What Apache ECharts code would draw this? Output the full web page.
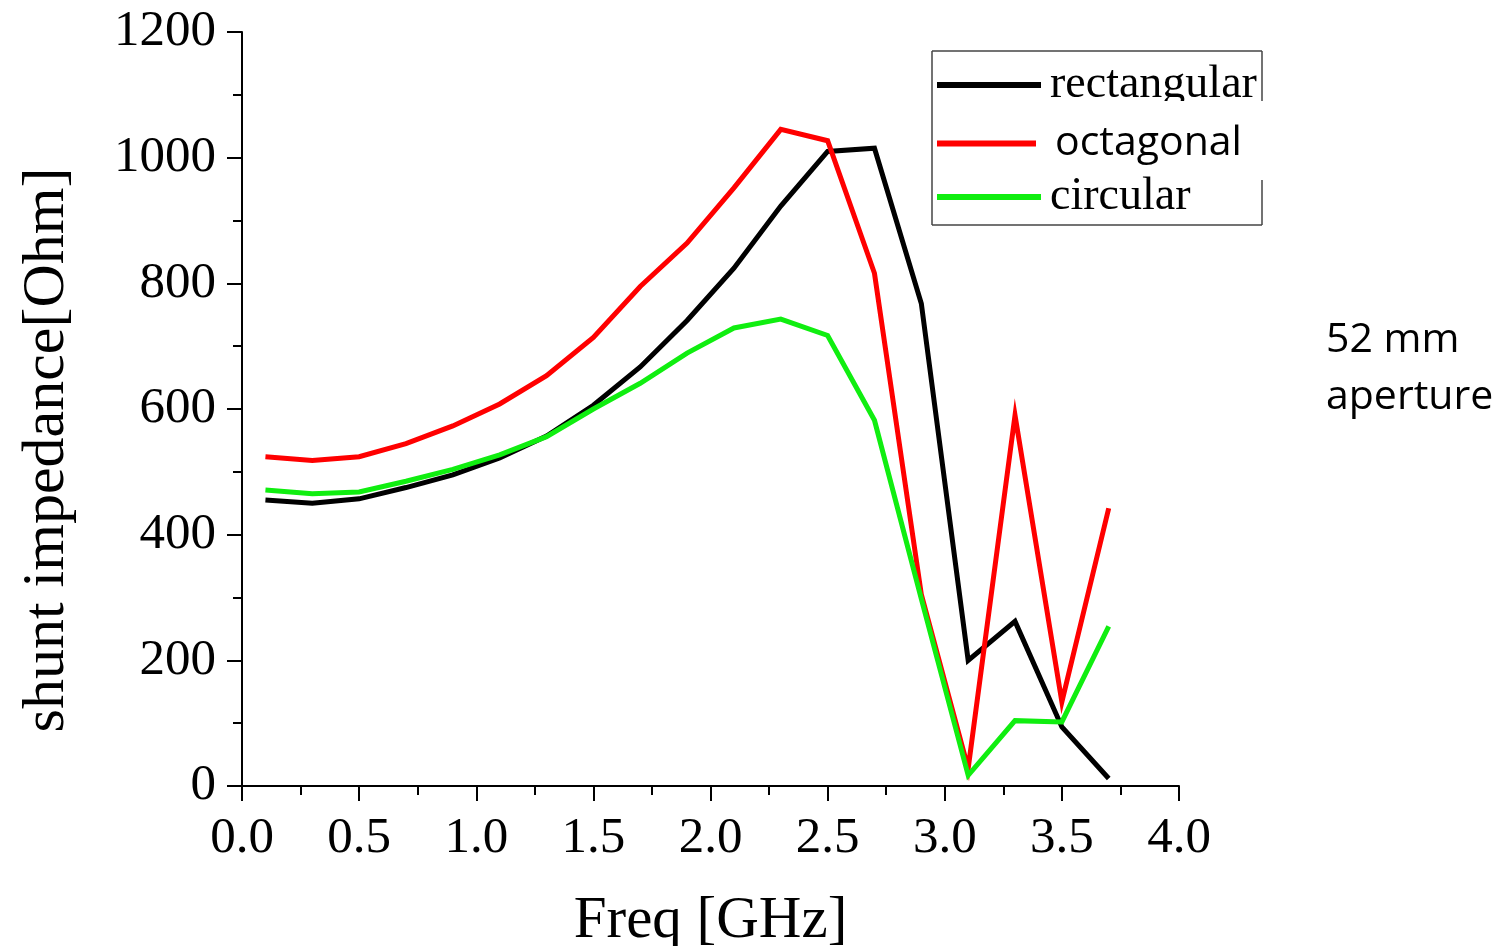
<!DOCTYPE html>
<html>
<head>
<meta charset="utf-8">
<script src="https://cdn.jsdelivr.net/npm/echarts@6/dist/echarts.min.js"></script>
<style>html,body{margin:0;padding:0;background:#fff}#c{width:1507px;height:946px}</style>
</head>
<body>
<div id="c"></div>
<script>
const freq = [0.1,0.3,0.5,0.7,0.9,1.1,1.3,1.5,1.7,1.9,2.1,2.3,2.5,2.7,2.9,3.1,3.3,3.5,3.7];
const rectangular = [455,450,457,475,495,522,557,606,667,741,824,923,1010,1015,768,200,262,94,12];
const octagonal = [524,518,524,545,573,608,653,714,795,864,952,1045,1027,816,305,28,590,134,442];
const circular = [471,465,468,485,504,527,556,600,641,689,729,743,717,582,298,17,104,102,254];
const xTicks = [0,0.5,1.0,1.5,2.0,2.5,3.0,3.5,4.0];
const yTicks = [0,200,400,600,800,1000,1200];
const xTitle = 'Freq [GHz]';
const yTitle = 'shunt impedance[Ohm]';
const note = ['52 mm', 'aperture'];

const serif = 'Liberation Serif';
const sans = 'Open Sans';
const colors = {rectangular:'#000000', octagonal:'#ff0000', circular:'#10ee10'};

function pairs(vals){ return freq.map((f,i)=>[f, vals[i]]); }
function mkSeries(name, vals){
  return {name, type:'line', data:pairs(vals), showSymbol:false, symbol:'none',
    lineStyle:{color:colors[name], width:5, join:'miter'}, itemStyle:{color:colors[name]},
    animation:false};
}
function mkLegend(name, top, width, font, size, pad){
  return {data:[{name, icon:'rect'}], left:937, top:top, orient:'vertical', padding:0,
    itemWidth:width, itemHeight:6, selectedMode:false,
    textStyle:{fontFamily:font, fontSize:size, color:'#000', lineHeight:size, padding:[0,0,0,pad]}};
}

const chart = echarts.init(document.getElementById('c'), null, {renderer:'canvas'});
chart.setOption({
  animation:false,
  backgroundColor:'#fff',
  grid:{left:242, right:328, top:32, bottom:160, containLabel:false, outerBoundsMode:'none'},
  xAxis:{type:'value', min:0, max:4, interval:0.5,
    name:xTitle, nameLocation:'middle', nameGap:106,
    nameTextStyle:{fontFamily:serif, fontSize:59, color:'#000'},
    axisLine:{show:true, onZero:false, lineStyle:{color:'#000', width:2}},
    axisTick:{show:true, length:15, lineStyle:{color:'#000', width:2}},
    minorTick:{show:true, splitNumber:2, length:9, lineStyle:{color:'#000', width:2}},
    splitLine:{show:false},
    axisLabel:{fontFamily:serif, fontSize:51, color:'#000', margin:27,
      formatter:v=>{const t=xTicks.find(x=>Math.abs(x-v)<1e-9); return t===undefined?'':t.toFixed(1);}}},
  yAxis:{type:'value', min:0, max:1200, interval:200,
    axisLine:{show:true, lineStyle:{color:'#000', width:2}},
    axisTick:{show:true, length:15, lineStyle:{color:'#000', width:2}},
    minorTick:{show:true, splitNumber:2, length:9, lineStyle:{color:'#000', width:2}},
    splitLine:{show:false},
    axisLabel:{fontFamily:serif, fontSize:51, color:'#000', margin:26,
      formatter:v=>yTicks.includes(v)?String(v):''}},
  legend:[
    mkLegend('rectangular', 62, 104, serif, 46, 4),
    mkLegend('octagonal', 123, 99, sans, 41, 14),
    mkLegend('circular', 174, 104, serif, 46, 4)
  ],
  series:[mkSeries('rectangular', rectangular), mkSeries('octagonal', octagonal), mkSeries('circular', circular)],
  graphic:[
    {type:'text', x:47, y:450, rotation:Math.PI/2, z:50,
      style:{text:yTitle, font:'60px "Liberation Serif"', fill:'#000', align:'center', verticalAlign:'middle'}},
    {type:'text', x:1326, y:340, z:50,
      style:{text:note[0], font:'41px "Open Sans"', fill:'#000', align:'left', verticalAlign:'middle'}},
    {type:'text', x:1326, y:397, z:50,
      style:{text:note[1], font:'41px "Open Sans"', fill:'#000', align:'left', verticalAlign:'middle'}},
    {type:'rect', z:60, shape:{x:1045, y:101, width:216, height:12}, style:{fill:'#fff'}},
    {type:'line', z:70, shape:{x1:932, y1:51, x2:1262, y2:51}, style:{stroke:'#444', lineWidth:1.5}},
    {type:'line', z:70, shape:{x1:932, y1:225, x2:1262, y2:225}, style:{stroke:'#444', lineWidth:1.5}},
    {type:'line', z:70, shape:{x1:932, y1:51, x2:932, y2:225}, style:{stroke:'#444', lineWidth:1.5}},
    {type:'line', z:70, shape:{x1:1262, y1:51, x2:1262, y2:101}, style:{stroke:'#444', lineWidth:1.5}},
    {type:'line', z:70, shape:{x1:1262, y1:180, x2:1262, y2:225}, style:{stroke:'#444', lineWidth:1.5}}
  ]
});
</script>
</body>
</html>
